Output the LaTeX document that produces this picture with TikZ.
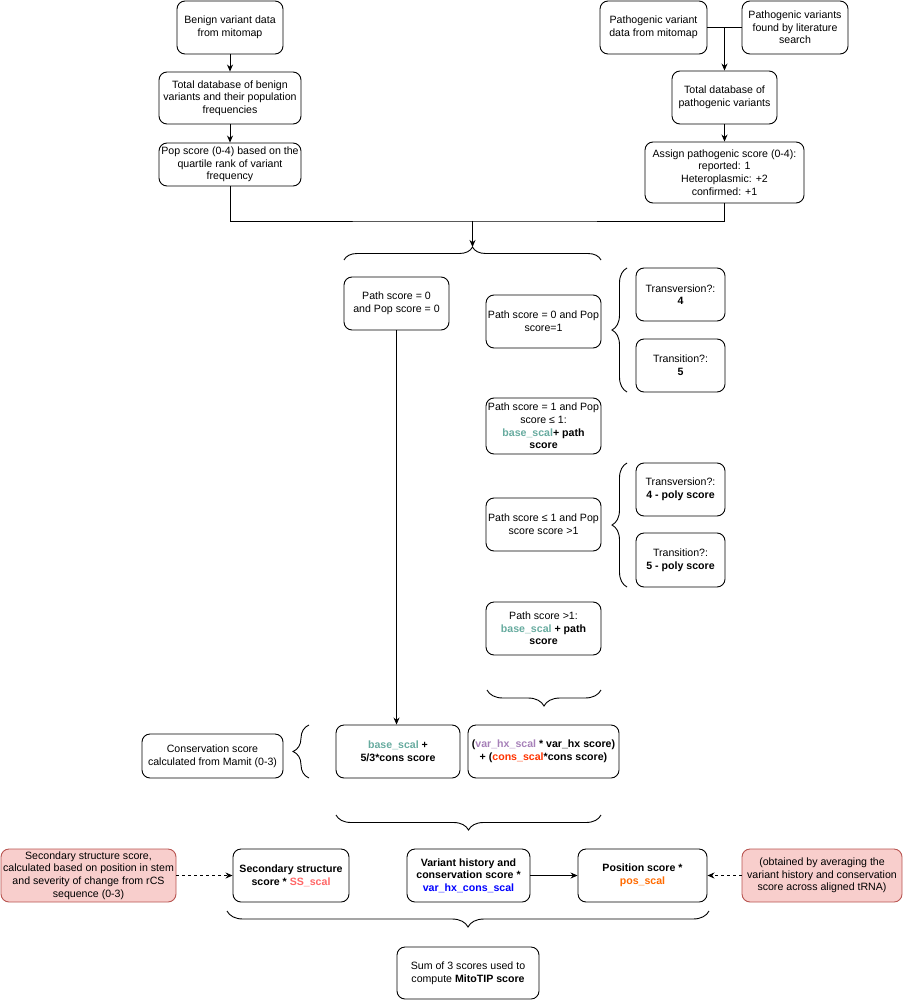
\documentclass[tikz,border=0pt]{standalone}
\usepackage{fontspec}
\setmainfont{Liberation Sans}
\usetikzlibrary{arrows.meta,decorations.pathreplacing}
\definecolor{tealc}{HTML}{67AB9F}
\definecolor{purplec}{HTML}{A680B8}
\definecolor{consred}{HTML}{FF3300}
\definecolor{ssred}{HTML}{FF6666}
\definecolor{bluec}{HTML}{0000FF}
\definecolor{orangec}{HTML}{FF6A00}
\definecolor{redfill}{HTML}{F8CECC}
\definecolor{redline}{HTML}{B85450}
\tikzset{
  box/.style={draw=black, line width=0.9pt, rounded corners=8pt, align=center, inner sep=1pt,
    font=\fontsize{10.6}{12.6}\selectfont, text=black},
  redbox/.style={box, fill=redfill, draw=redline},
  arr/.style={-{Stealth[length=7pt,width=6pt]}, line width=0.9pt},
  dasharr/.style={arr, dashed},
  ln/.style={line width=0.9pt},
  brc/.style={line width=0.9pt, decorate, decoration={brace, amplitude=#1}},
}
\newcommand{\tl}[1]{\textcolor{tealc}{#1}}
\begin{document}
\begin{tikzpicture}[x=1pt,y=-1pt]
\useasboundingbox (0,0) rectangle (903,1000);
% left column
\node[box, minimum width=106, minimum height=53] (benign) at (230,27.5) {Benign variant data\\from mitomap};
\node[box, minimum width=142, minimum height=52] (totalB) at (230,98) {Total database of benign\\variants and their population\\frequencies};
\node[box, minimum width=142, minimum height=43] (pop) at (230,164.5) {Pop score (0-4) based on the\\quartile rank of variant\\frequency};
% right column
\node[box, minimum width=107, minimum height=53] (pathv) at (653.5,27.5) {Pathogenic variant\\data from mitomap};
\node[box, minimum width=106, minimum height=53] (lit) at (795,27.5) {Pathogenic variants\\found by literature\\search};
\node[box, minimum width=105, minimum height=53] (totalP) at (724.5,97.5) {Total database of\\pathogenic variants};
\node[box, minimum width=159, minimum height=61] (assign) at (724.5,172.5) {Assign pathogenic score (0-4):\\reported: 1\\Heteroplasmic: +2\\confirmed: +1};
% middle
\node[box, minimum width=105, minimum height=53] (path0) at (396.5,303.5) {Path score = 0\\and Pop score = 0};
\node[box, minimum width=115, minimum height=53] (p01) at (543.5,321.5) {Path score = 0 and Pop\\score=1};
\node[box, minimum width=89, minimum height=53] (tv1) at (680.5,294.5) {Transversion?:\\\textbf{4}};
\node[box, minimum width=89, minimum height=53] (ts1) at (680.5,365.5) {Transition?:\\\textbf{5}};
\node[box, minimum width=115, minimum height=56] (p1) at (543.5,426) {Path score = 1 and Pop\\score ≤ 1:\\\textbf{\tl{base\_scal}+ path}\\\textbf{score}};
\node[box, minimum width=115, minimum height=53] (pless) at (543.5,524.5) {Path score ≤ 1 and Pop\\score score >1};
\node[box, minimum width=89, minimum height=53] (tv2) at (680.5,489.5) {Transversion?:\\\textbf{4 - poly score}};
\node[box, minimum width=89, minimum height=54] (ts2) at (680.5,560) {Transition?:\\\textbf{5 - poly score}};
\node[box, minimum width=115, minimum height=53] (pg1) at (543.5,628.5) {Path score >1:\\\textbf{\tl{base\_scal} + path}\\\textbf{score}};
\node[box, minimum width=141, minimum height=44] (cons) at (212.5,756) {Conservation score\\calculated from Mamit (0-3)};
\node[box, minimum width=124, minimum height=53] (base) at (398,751.5) {\textbf{\tl{base\_scal} +}\\\textbf{5/3*cons score}};
\node[box, minimum width=151, minimum height=53] (varhx) at (543.5,751.5) {\textbf{(\textcolor{purplec}{var\_hx\_scal} * var\_hx score)}\\\textbf{+ (\textcolor{consred}{cons\_scal}*cons score)}};
% bottom row
\node[redbox, minimum width=175, minimum height=53] (red1) at (88.5,875.5) {Secondary structure score,\\calculated based on position in stem\\and severity of change from rCS\\sequence (0-3)};
\node[box, minimum width=116, minimum height=53] (ss) at (291,875.5) {\textbf{Secondary structure}\\\textbf{score * \textcolor{ssred}{SS\_scal}}};
\node[box, minimum width=123, minimum height=53] (vh) at (468.5,875.5) {\textbf{Variant history and}\\\textbf{conservation score *}\\\textbf{\textcolor{bluec}{var\_hx\_cons\_scal}}};
\node[box, minimum width=129, minimum height=53] (pos) at (642.5,875.5) {\textbf{Position score *}\\\textbf{\textcolor{orangec}{pos\_scal}}};
\node[redbox, minimum width=160, minimum height=53] (red2) at (822,875.5) {(obtained by averaging the\\variant history and conservation\\score across aligned tRNA)};
\node[box, minimum width=142, minimum height=52] (sum) at (468,973) {Sum of 3 scores used to\\compute \textbf{MitoTIP score}};
% coordinates
\coordinate (merge) at (472.5,221);
\coordinate (topTip) at (472.5,247);
\coordinate (pj) at (totalP.north |- pathv.east);
% connectors
\draw[arr] (benign) -- (totalB);
\draw[arr] (totalB) -- (pop);
\draw[ln] (pathv.east) -- (lit.west);
\draw[arr] (pj) -- (totalP);
\draw[arr] (totalP) -- (assign);
\draw[ln] (pop.south) |- (merge) -| (assign.south);
\draw[arr] (merge) -- (topTip);
\draw[arr] (path0.south) -- (path0.south |- base.north);
\draw[dasharr] (red1) -- (ss);
\draw[arr] (vh) -- (pos);
\draw[dasharr] (red2) -- (pos);
% braces
\draw[brc=13pt] (344,260) -- (601,260);
\draw[brc=15pt] (627,392) -- (627,268);
\draw[brc=15pt] (627,587) -- (627,463);
\draw[brc=16pt] (601,690) -- (487,690);
\draw[brc=16pt] (309,778) -- (309,725);
\draw[brc=15pt] (601,815) -- (336,815);
\draw[brc=16pt] (709,911) -- (227,911);
\end{tikzpicture}
\end{document}
